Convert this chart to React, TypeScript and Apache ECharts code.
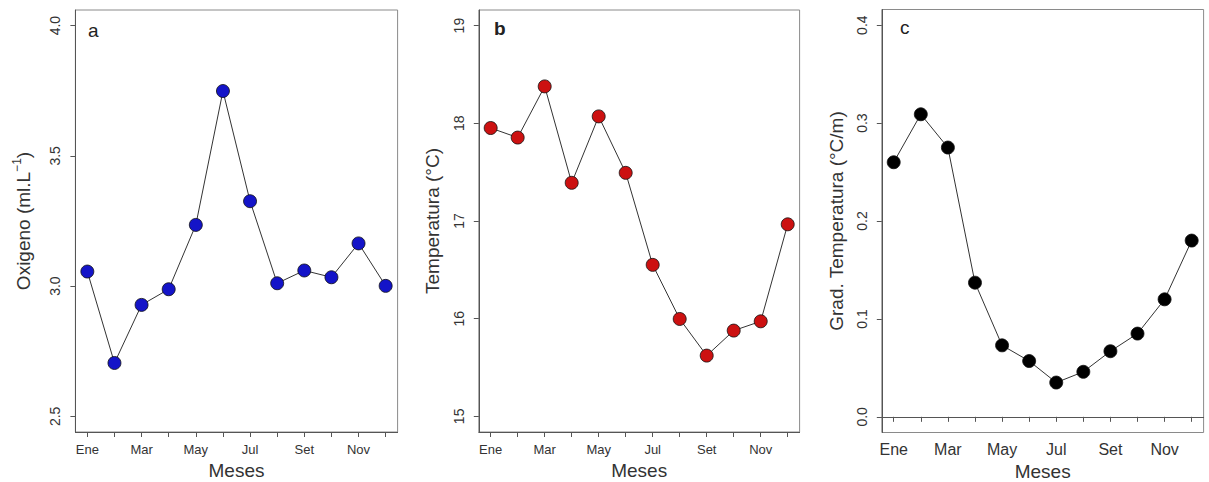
import React, { useEffect, useRef } from "react";
import * as echarts from "echarts";

const months = ["Ene", "Feb", "Mar", "Abr", "May", "Jun", "Jul", "Ago", "Set", "Oct", "Nov", "Dic"];
const monthIndex = [1, 2, 3, 4, 5, 6, 7, 8, 9, 10, 11, 12];
const labelledMonths = [1, 3, 5, 7, 9, 11];

const oxigeno = [3.056, 2.705, 2.928, 2.988, 3.235, 3.749, 3.326, 3.011, 3.06, 3.034, 3.164, 3.001];
const temperatura = [17.952, 17.854, 18.378, 17.391, 18.071, 17.493, 16.551, 15.997, 15.622, 15.878, 15.973, 16.966];
const gradiente = [0.26, 0.309, 0.275, 0.137, 0.073, 0.057, 0.035, 0.046, 0.067, 0.085, 0.12, 0.18];

const ticksA = [2.5, 3.0, 3.5, 4.0];
const ticksB = [15, 16, 17, 18, 19];
const ticksC = [0.0, 0.1, 0.2, 0.3, 0.4];

const FONT = "Liberation Sans, Arial, sans-serif";
const AXIS_COLOR = "#555";
const TEXT_COLOR = "#333";

export default function App() {
  const ref = useRef<HTMLDivElement>(null);

  useEffect(() => {
    if (!ref.current) return;
    const chart = echarts.init(ref.current, null, { renderer: "svg" });

    const grids = [
      { left: 75.4, right: 1209 - 397.6, top: 10, bottom: 50 },
      { left: 478.8, right: 1209 - 799.6, top: 10, bottom: 50 },
      { left: 881.8, right: 1209 - 1203.6, top: 9.5, bottom: 49.5 },
    ].map((g) => ({
      ...g,
      show: true,
      borderColor: "#8a8a8a",
      borderWidth: 1,
      backgroundColor: "transparent",
      containLabel: false,
      outerBoundsMode: "none",
    }));

    const xAxisFor = (gi: number, fs: number, margin: number) => ({
      type: "value",
      gridIndex: gi,
      min: 0.56,
      max: 12.44,
      name: "Meses",
      nameLocation: "middle",
      nameGap: 29,
      nameTextStyle: { fontFamily: FONT, fontSize: 19, color: TEXT_COLOR },
      axisLine: { show: true, lineStyle: { color: AXIS_COLOR, width: 1 } },
      axisTick: { show: true, length: 5, customValues: monthIndex, lineStyle: { color: AXIS_COLOR } },
      axisLabel: {
        customValues: labelledMonths,
        formatter: (v: number) => months[Math.round(v) - 1],
        fontFamily: FONT,
        fontSize: fs,
        color: TEXT_COLOR,
        margin,
      },
      splitLine: { show: false },
    });

    const yAxisFor = (gi: number, min: number, max: number, ticks: number[], dec: number, name: string, gap: number, rich?: any) => ({
      type: "value",
      gridIndex: gi,
      min,
      max,
      name,
      nameLocation: "middle",
      nameRotate: 90,
      nameGap: gap,
      nameTextStyle: { fontFamily: FONT, fontSize: 19, color: TEXT_COLOR, rich },
      axisLine: { show: true, lineStyle: { color: AXIS_COLOR, width: 1 } },
      axisTick: { show: true, length: 5, customValues: ticks, lineStyle: { color: AXIS_COLOR } },
      axisLabel: {
        customValues: ticks,
        formatter: (v: number) => v.toFixed(dec),
        rotate: 90,
        fontFamily: FONT,
        fontSize: 14,
        color: TEXT_COLOR,
        margin: 13,
      },
      splitLine: { show: false },
    });

    const seriesFor = (gi: number, data: number[], color: string) => ({
      type: "line",
      xAxisIndex: gi,
      yAxisIndex: gi,
      data: monthIndex.map((m, i) => [m, data[i]]),
      symbol: "circle",
      symbolSize: 13,
      lineStyle: { color: "#333", width: 1 },
      itemStyle: { color, borderColor: "#111", borderWidth: 0.8 },
      z: 3,
    });

    chart.setOption({
      animation: false,
      backgroundColor: "#fff",
      grid: grids,
      xAxis: [xAxisFor(0, 13, 11), xAxisFor(1, 13, 11), xAxisFor(2, 16, 9)],
      yAxis: [
        yAxisFor(0, 2.44, 4.06, ticksA, 1, "Oxigeno (ml.L{s|−1})", 40, {
          s: { fontSize: 12, verticalAlign: "top", lineHeight: 24, fontFamily: FONT, color: TEXT_COLOR },
        }),
        yAxisFor(1, 14.84, 19.16, ticksB, 0, "Temperatura (°C)", 37),
        yAxisFor(2, -0.016, 0.416, ticksC, 1, "Grad. Temperatura (°C/m)", 36),
      ],
      series: [
        seriesFor(0, oxigeno, "#1414c8"),
        seriesFor(1, temperatura, "#cc1111"),
        seriesFor(2, gradiente, "#000000"),
      ],
      graphic: [
        { type: "text", left: 88, top: 21, style: { text: "a", fontFamily: FONT, fontSize: 19, fill: "#222" } },
        { type: "text", left: 494, top: 19, style: { text: "b", fontFamily: FONT, fontSize: 19, fontWeight: "bold", fill: "#222" } },
        { type: "text", left: 900, top: 18, style: { text: "c", fontFamily: FONT, fontSize: 19, fill: "#222" } },
      ],
    });

    return () => chart.dispose();
  }, []);

  return <div ref={ref} style={{ position: "absolute", left: 0, top: 0, width: 1209, height: 482 }} />;
}
